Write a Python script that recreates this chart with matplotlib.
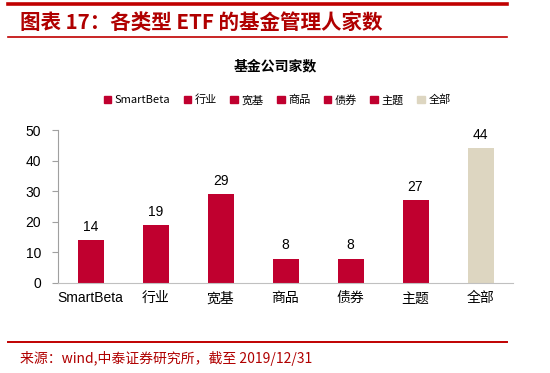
import matplotlib
matplotlib.use("Agg")
import matplotlib.pyplot as plt
from matplotlib.patches import Patch
from matplotlib.lines import Line2D

categories = ["SmartBeta", "行业", "宽基", "商品", "债券", "主题", "全部"]
values = [14, 19, 29, 8, 8, 27, 44]
colors = ["#C0002F"] * 6 + ["#DDD6C1"]
yticks = [0, 10, 20, 30, 40, 50]

plt.rcParams['font.family'] = ['Liberation Sans', 'Noto Sans CJK SC', 'DejaVu Sans']

W, H = 550, 373
fig = plt.figure(figsize=(W / 100, H / 100), dpi=100)

def hline(y, x0, x1, lw, color):
    fig.add_artist(Line2D([x0 / W, x1 / W], [1 - y / H, 1 - y / H], lw=lw, color=color,
                          transform=fig.transFigure))

hline(4, 8, 507, 2.6, "#C00000")
hline(37, 8, 507, 1.2, "#C00000")
hline(342, 8, 507, 1.4, "#C00000")

fig.text(20 / W, 1 - 22 / H, "图表 17：各类型 ETF 的基金管理人家数", fontsize=14.8,
         fontweight='bold', fontstyle='italic', color="#B00000", va='center', ha='left',
         family=['Noto Sans CJK SC', 'DejaVu Sans'])
fig.text(20 / W, 1 - 358 / H, "来源：wind,中泰证券研究所，截至 2019/12/31", fontsize=10,
         color="#B00000", va='center', ha='left',
         family=['Noto Sans CJK SC', 'DejaVu Sans'])

fig.text(275 / W, 1 - 66 / H, "基金公司家数", fontsize=10, color="#000000", fontweight='bold',
         va='center', ha='center', family=['Noto Sans CJK SC', 'DejaVu Sans'])

ax = fig.add_axes([58 / W, 1 - 283 / H, 455 / W, 153 / H])
x = list(range(len(categories)))
ax.bar(x, values, width=0.4, color=colors)
for xi, v in zip(x, values):
    ax.text(xi, v + 2, str(v), ha='center', va='bottom', fontsize=10, color="#000000")

ax.set_xlim(-0.5, len(categories) - 0.5)
ax.set_ylim(0, 50)
ax.set_yticks(yticks)
ax.set_xticks(x)
ax.set_xticklabels(categories, fontsize=10)
ax.tick_params(axis='y', labelsize=10, direction='out', length=4, color="#A0A0A0", pad=8)
ax.tick_params(axis='x', length=0, pad=6)
for s in ['top', 'right']:
    ax.spines[s].set_visible(False)
ax.spines['left'].set_color("#A0A0A0")
ax.spines['bottom'].set_color("#C0C0C0")
ax.patch.set_alpha(0)

handles = [Patch(color=c) for c in colors]
fig.legend(handles, categories, loc='center', bbox_to_anchor=(277 / W, 1 - 100 / H),
           ncol=7, frameon=False, handlelength=0.7, handleheight=0.7,
           handletextpad=0.3, columnspacing=1.2,
           prop={'family': ['Noto Sans CJK SC', 'DejaVu Sans'], 'size': 8})

fig.savefig("out.png", dpi=100)
